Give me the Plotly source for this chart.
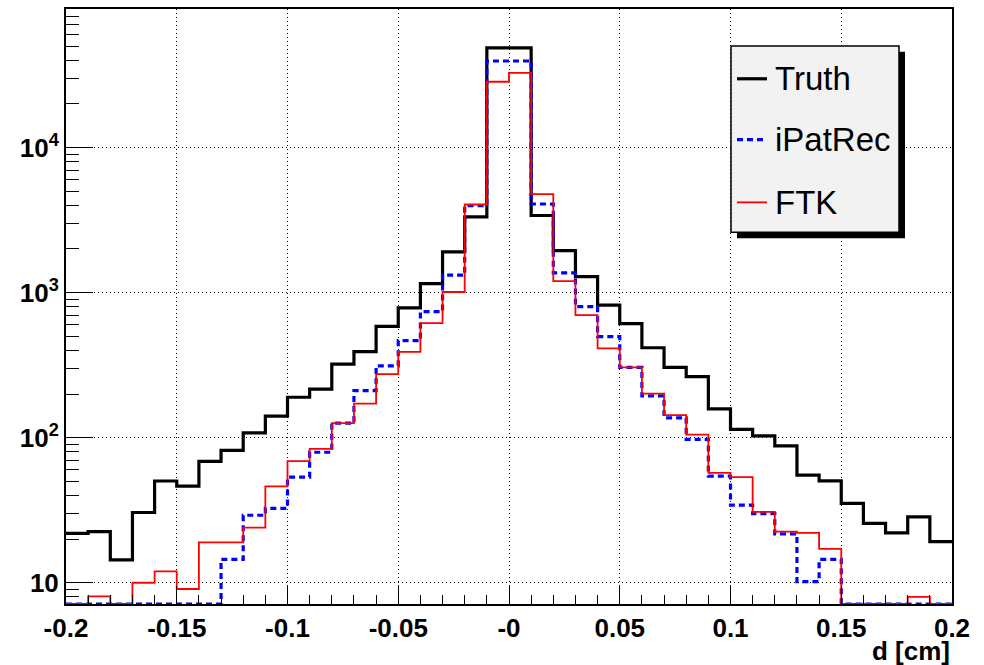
import numpy as np
import plotly.graph_objects as go

# ---------------- data ----------------
x_min, x_max, n_bins = -0.2, 0.2, 40

truth = [21.9, 22.5, 14.4, 30.5, 50.3, 46.3, 68.6, 81.8, 108, 141,
         190, 216, 321, 392, 585, 785, 1155, 1910, 3330, 48700,
         48700, 3400, 1950, 1290, 820, 612, 417, 305, 264, 158,
         114, 103, 87.8, 55.2, 50.4, 35.3, 25.7, 22.1, 28.5, 19.2]

ipatrec = [0, 0, 0, 0, 0, 0, 0, 14.5, 29.2, 32.6,
           53.5, 79.4, 126, 211, 313, 467, 740, 1320, 3980, 39500,
           39500, 4080, 1370, 800, 497, 305, 194, 137, 97.5, 54.3,
           34.3, 30.0, 21.7, 10.2, 14.5, 0, 0, 0, 0, 0]

ftk = [0, 8.06, 0, 10.0, 12.0, 9.06, 19.0, 19.0, 24.0, 46.2,
       69.0, 83.8, 126, 172, 274, 390, 616, 1010, 4050, 28400,
       32700, 4780, 1200, 700, 413, 305, 201, 143, 105, 57.3,
       53.4, 30.8, 22.5, 22.1, 17.1, 0, 0, 0, 8.0, 0]

series_names = ["Truth", "iPatRec", "FTK"]

x_tick_vals = [-0.2, -0.15, -0.1, -0.05, 0.0, 0.05, 0.1, 0.15, 0.2]
x_tick_text = ["-0.2", "-0.15", "-0.1", "-0.05", "-0", "0.05", "0.1", "0.15", "0.2"]
y_tick_vals = [10, 100, 1000, 10000]
y_tick_text = ["10", "10<sup>2</sup>", "10<sup>3</sup>", "10<sup>4</sup>"]
x_title = "d [cm]"

# ---------------- styling ----------------
Y_LO, Y_HI = 0.8537, 4.9549          # log10 range of the frame
YMIN = 10 ** Y_LO
FONT = "Liberation Sans, Arial, Helvetica, sans-serif"

W, H = 984, 665
L, R, T, B = 66, 32, 7, 61
PW, PH = W - L - R, H - T - B

edges = np.linspace(x_min, x_max, n_bins + 1)


def step_y(vals):
    # ROOT draws empty bins along the bottom of the frame
    v = [val if val > 0 else YMIN for val in vals]
    return v + [v[-1]]


styles = [
    dict(color="#000000", width=3.2, dash="solid"),
    dict(color="#0000ff", width=3.2, dash="6px,4px"),
    dict(color="#ff0000", width=1.8, dash="solid"),
]

fig = go.Figure()
for name, vals, st in zip(series_names, [truth, ipatrec, ftk], styles):
    fig.add_trace(go.Scatter(
        x=edges, y=step_y(vals), mode="lines", name=name,
        line=dict(shape="hv", **st), showlegend=False,
        hoverinfo="skip",
    ))

minor_y = [k * 10 ** d for d in range(0, 5) for k in range(2, 10)
           if Y_LO <= np.log10(k * 10 ** d) <= Y_HI]

fig.update_layout(
    width=W, height=H,
    margin=dict(l=L, r=R, t=T, b=B),
    paper_bgcolor="white", plot_bgcolor="white",
    font=dict(family=FONT, color="black"),
    xaxis=dict(
        range=[x_min, x_max], tickmode="array",
        tickvals=x_tick_vals, ticktext=x_tick_text,
        ticks="inside", ticklen=18, tickwidth=1.3, tickcolor="black",
        minor=dict(dtick=0.01, tick0=0, ticks="inside", ticklen=9,
                   tickwidth=1.3, tickcolor="black", showgrid=False),
        showgrid=True, gridcolor="black", gridwidth=1, griddash="1px,3px",
        showline=True, linecolor="black", linewidth=2, mirror=True,
        zeroline=False,
        tickfont=dict(family=FONT, size=26, weight="bold", color="black"),
    ),
    yaxis=dict(
        type="log", range=[Y_LO, Y_HI], tickmode="array",
        tickvals=y_tick_vals, ticktext=y_tick_text,
        ticks="inside", ticklen=27, tickwidth=1.3, tickcolor="black",
        minor=dict(tickmode="array", tickvals=minor_y, ticks="inside",
                   ticklen=13, tickwidth=1.3, tickcolor="black",
                   showgrid=False),
        showgrid=True, gridcolor="black", gridwidth=1, griddash="1px,3px",
        showline=True, linecolor="black", linewidth=2, mirror=True,
        zeroline=False,
        tickfont=dict(family=FONT, size=26, weight="bold", color="black"),
    ),
)


def px(xp):
    return (xp - L) / PW


def py(yp):
    return (H - B - yp) / PH


# axis title
fig.add_annotation(text=x_title, xref="paper", yref="paper",
                   x=1.0, y=py(651), xanchor="right", yanchor="middle",
                   showarrow=False,
                   font=dict(family=FONT, size=26, weight="bold", color="black"))

# legend box (drawn manually to match the ROOT TLegend)
bx0, by0, bx1, by1 = 731, 44, 899, 231
shadow = 6
fig.add_shape(type="rect", xref="paper", yref="paper",
              x0=px(bx0 + shadow), x1=px(bx1 + shadow),
              y0=py(by0 + shadow), y1=py(by1 + shadow),
              fillcolor="black", line=dict(width=0), layer="above")
fig.add_shape(type="rect", xref="paper", yref="paper",
              x0=px(bx0), x1=px(bx1), y0=py(by0), y1=py(by1),
              fillcolor="#f2f2f2", line=dict(color="black", width=1.5),
              layer="above")
entry_y = [77, 138, 201]
for name, st, ey in zip(series_names, styles, entry_y):
    fig.add_shape(type="line", xref="paper", yref="paper",
                  x0=px(737), x1=px(767), y0=py(ey), y1=py(ey),
                  line=dict(color=st["color"], width=st["width"],
                            dash=st["dash"]), layer="above")
    fig.add_annotation(text=name, xref="paper", yref="paper",
                       x=px(773), y=py(ey), xanchor="left", yanchor="middle",
                       showarrow=False,
                       font=dict(family=FONT, size=33, color="black"))

fig.write_html("out.html")
